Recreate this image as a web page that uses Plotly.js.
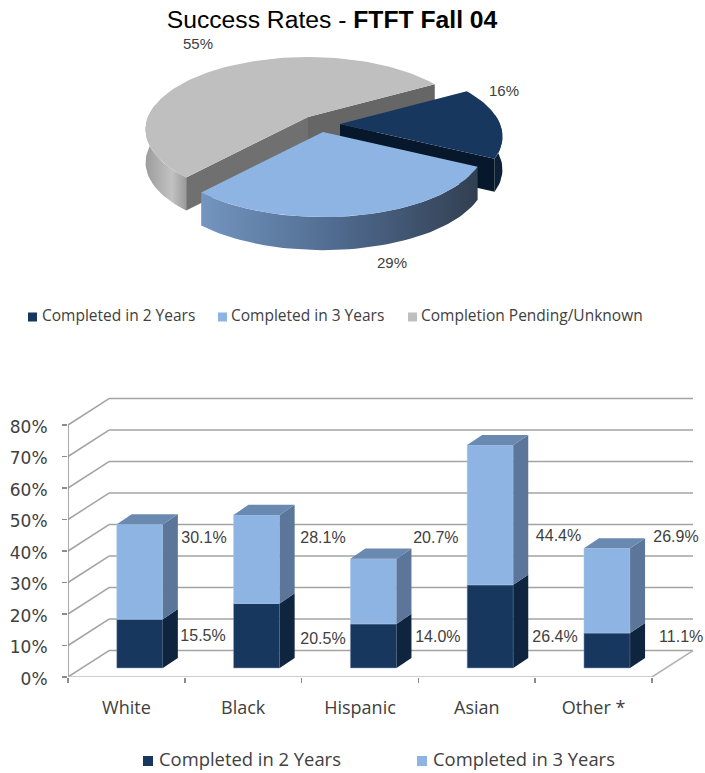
<!DOCTYPE html>
<html>
<head>
<meta charset="utf-8">
<script src="https://cdn.plot.ly/plotly-3.0.1.min.js"></script>
<style>html,body{margin:0;padding:0;background:#fff}</style>
</head>
<body>
<div id="chart" style="width:705px;height:773px"></div>
<script>
// ---- data ----
const pieLabels = ['Completed in 2 Years', 'Completed in 3 Years', 'Completion Pending/Unknown'];
const pieValues = [16, 29, 55];
const categories = ['White', 'Black', 'Hispanic', 'Asian', 'Other *'];
const twoYear = [15.5, 20.5, 14.0, 26.4, 11.1];
const threeYear = [30.1, 28.1, 20.7, 44.4, 26.9];
const yTicks = [0, 10, 20, 30, 40, 50, 60, 70, 80];
const seriesNames = ['Completed in 2 Years', 'Completed in 3 Years'];

// ---- colours ----
const NAVY = '#17375E', LIGHT = '#8EB4E3', GRAY = '#BFBFBF', TXT = '#404040';

// ---- layout constants (pie axes are scaled 1 unit = 1 screen pixel) ----
const W = 705, H = 773;
const pieBottom = 345;
const apexX = [340, 323, 308], apexY = [124, 132, 117];
const pieR = 160, pieK = 70.4, pieP = 0.173, pieT = 33, pieStart = -30.5;
const pieLabelX = [504, 392, 198], pieLabelY = [92, 264, 45];

// wall / bar depth in axis units of the lower plot
const wallDx = 0.351, wallDy = 8.4, barDx = 0.128, barDy = 3.2;
const barShift = 0.615, barWidth = 0.395, barBase = 2.86;
const label2X = [1.156, 2.183, 3.167, 4.17, 5.25], label2Y = [12.7, 11.7, 12.4, 12.4, 12.4];
const label3X = [1.164, 2.183, 3.15, 4.20, 5.205], label3Y = [43.8, 43.8, 43.8, 44.4, 44.1];

const traces = [];

// ---- pie (drawn from the shares) ----
function proj(a, deg, f) {
  const t = deg * Math.PI / 180, u = f * Math.cos(t), v = f * Math.sin(t), s = 1 / (1 - pieP * v);
  return [apexX[a] + pieR * u * s, apexY[a] + pieK * v * s];
}
function arc(a, d0, d1) {
  const pts = [], n = Math.max(2, Math.ceil(Math.abs(d1 - d0) / 2));
  for (let i = 0; i <= n; i++) pts.push(proj(a, d0 + (d1 - d0) * i / n, 1));
  return pts;
}
function poly(pts, color, grad, sub) {
  const t = {
    type: 'scatter', mode: 'lines', x: pts.map(p => p[0]).concat([pts[0][0]]), y: pts.map(p => p[1]).concat([pts[0][1]]),
    xaxis: sub ? 'x2' : 'x', yaxis: sub ? 'y2' : 'y', fill: 'toself', line: {width: 0}, hoverinfo: 'skip', showlegend: false
  };
  if (grad) { t.fillgradient = {type: 'horizontal', colorscale: grad}; } else { t.fillcolor = color; }
  traces.push(t);
}
function wall(a, d0, d1, color, grad) {
  const top = arc(a, d0, d1), bottom = top.slice().reverse().map(p => [p[0], p[1] + pieT]);
  poly(top.concat(bottom), color, grad, true);
}
function cut(a, deg, color) {
  const A = [apexX[a], apexY[a]], E = proj(a, deg, 1);
  poly([A, E, [E[0], E[1] + pieT], [A[0], A[1] + pieT]], color, null, true);
}
const total = pieValues.reduce((s, v) => s + v, 0);
const edges = [pieStart];
pieValues.forEach(v => edges.push(edges[edges.length - 1] + v / total * 360));
const pieTop = [NAVY, LIGHT, GRAY];

// grey slice (rear)
wall(2, edges[2], 190, null, [[0, '#9c9c9c'], [0.65, '#c2c2c2'], [1, '#9a9a9a']]);
cut(2, edges[2], '#707070');
cut(2, edges[3], '#666666');
poly([[apexX[2], apexY[2]]].concat(arc(2, edges[2], edges[3])), pieTop[2], null, true);
// navy slice
wall(0, -8, edges[1], '#0C2038');
cut(0, edges[1], '#08182C');
poly([[apexX[0], apexY[0]]].concat(arc(0, edges[0], edges[1])), pieTop[0], null, true);
// light blue slice (front)
wall(1, edges[1], edges[2], null, [[0, '#7395BF'], [0.5, '#4F6A8E'], [1, '#323F52']]);
poly([[apexX[1], apexY[1]]].concat(arc(1, edges[1], edges[2])), pieTop[1], null, true);

// pie labels
traces.push({
  type: 'scatter', mode: 'text', x: pieLabelX, y: pieLabelY, xaxis: 'x2', yaxis: 'y2', cliponaxis: false,
  text: pieValues.map(v => v + '%'), textposition: 'middle center',
  textfont: {family: 'Liberation Sans', size: 15, color: TXT}, hoverinfo: 'skip', showlegend: false
});

// legends: swatch and label placed separately
function legendItem(name, swatchX, size, textX, y, color, fontSize, yaxis) {
  traces.push({
    type: 'scatter', mode: 'markers', name, x: [swatchX + size / 2], y: [y], xaxis: 'x2', yaxis, cliponaxis: false,
    marker: {symbol: 'square', size, color}, hoverinfo: 'skip', showlegend: false
  });
  traces.push({
    type: 'scatter', mode: 'text', x: [textX], y: [y], xaxis: 'x2', yaxis, cliponaxis: false,
    text: [name], textposition: 'middle right',
    textfont: {family: 'Open Sans', size: fontSize, color: TXT}, hoverinfo: 'skip', showlegend: false
  });
}
const pieSwatchX = [28, 218, 408], pieTextX = [42, 231, 421];
pieLabels.forEach((n, i) => legendItem(n, pieSwatchX[i], 9, pieTextX[i], 317, pieTop[i], 15.5, 'y2'));

// ---- bars: fronts are real stacked bars, depth faces follow the values ----
const barX = categories.map((c, i) => i + barShift);
traces.push({
  type: 'bar', name: seriesNames[0], x: barX, y: twoYear, base: categories.map(() => barBase), width: barWidth,
  marker: {color: NAVY, line: {color: '#8FA3BD', width: 0.5}}, xaxis: 'x', yaxis: 'y', showlegend: false, hovertext: categories
});
traces.push({
  type: 'bar', name: seriesNames[1], x: barX, y: threeYear, base: twoYear.map(v => v + barBase), width: barWidth,
  marker: {color: LIGHT, line: {color: '#B5CDEB', width: 0.5}}, xaxis: 'x', yaxis: 'y', showlegend: false, hovertext: categories
});
categories.forEach((c, i) => {
  const xr = barX[i] + barWidth / 2, xl = barX[i] - barWidth / 2;
  const y0 = barBase, y1 = barBase + twoYear[i], y2 = y1 + threeYear[i];
  poly([[xr, y0], [xr + barDx, y0 + barDy], [xr + barDx, y1 + barDy], [xr, y1]], '#0F243E');
  poly([[xr, y1], [xr + barDx, y1 + barDy], [xr + barDx, y2 + barDy], [xr, y2]], '#5B7698');
  poly([[xl, y2], [xl + barDx, y2 + barDy], [xr + barDx, y2 + barDy], [xr, y2]], '#6A89B0');
});

// data labels
[[twoYear, label2X, label2Y], [threeYear, label3X, label3Y]].forEach(s => traces.push({
  type: 'scatter', mode: 'text', x: s[1], y: s[2], xaxis: 'x', yaxis: 'y', cliponaxis: false,
  text: s[0].map(v => v.toFixed(1) + '%'), textposition: 'middle center',
  textfont: {family: 'Liberation Sans', size: 16, color: TXT}, hoverinfo: 'skip', showlegend: false
}));

// bar legend
const barSwatchX = [143, 417], barTextX = [159, 433], barColors = [NAVY, LIGHT];
seriesNames.forEach((n, i) => legendItem(n, barSwatchX[i], 10, barTextX[i], 761, barColors[i], 18.4, 'y3'));

// ---- perspective grid ----
const GRID = '#A3A3A3';
const seg = (x0, y0, x1, y1, c, w) => ({type: 'line', xref: 'x', yref: 'y', layer: 'below', x0, y0, x1, y1, line: {color: c || GRID, width: w || 1.5}});
const shapes = [];
yTicks.forEach(v => {
  shapes.push(seg(wallDx, v + wallDy, 5 + wallDx, v + wallDy));
  shapes.push(seg(0, v, wallDx, v + wallDy));
});
shapes.push(seg(0, 0, 0, yTicks[yTicks.length - 1], '#8C8C8C'));
shapes.push(seg(0, 0, 5, 0, '#BDBDBD'));
shapes.push(seg(5, 0, 5 + wallDx, wallDy, '#B0B0B0'));

const layout = {
  width: W, height: H, margin: {l: 0, r: 0, t: 0, b: 0}, paper_bgcolor: '#fff', plot_bgcolor: 'rgba(0,0,0,0)',
  showlegend: false, barmode: 'overlay', shapes,
  title: {text: 'Success Rates - <b>FTFT Fall 04</b>', x: 332 / W, xanchor: 'center', y: 1 - 19 / H, yanchor: 'middle',
          font: {family: 'Liberation Sans', size: 24.7, color: '#000'}},
  xaxis: {
    domain: [68 / W, 1], range: [0, (W - 68) / 116.8], anchor: 'y', zeroline: false, showgrid: false, showline: false,
    tickmode: 'array', tickvals: categories.map((c, i) => i + 0.5), ticktext: categories, ticks: '',
    minor: {tickmode: 'array', tickvals: [0, 1, 2, 3, 4, 5], ticks: 'outside', ticklen: 5, tickwidth: 1.5, tickcolor: '#8C8C8C', showgrid: false},
    ticklabelstandoff: 18, tickfont: {family: 'Open Sans', size: 18, color: TXT}
  },
  yaxis: {
    domain: [(H - 677) / H, (H - 393.5) / H], range: [0, 90], anchor: 'x', zeroline: false, showgrid: false, showline: false,
    position: 0, tickmode: 'array', tickvals: yTicks, ticktext: yTicks.map(v => v + '%'), ticks: 'outside', ticklen: 5, tickwidth: 1.5, tickcolor: '#8C8C8C',
    ticklabelstandoff: 11, ticklabelshift: 2, tickfont: {family: 'DejaVu Sans', size: 17, color: TXT}
  },
  xaxis2: {domain: [0, 1], range: [0, W], anchor: 'y2', visible: false},
  yaxis2: {domain: [1 - pieBottom / H, 1], range: [pieBottom, 0], anchor: 'x2', visible: false},
  yaxis3: {domain: [0, (H - 740) / H], range: [H, 740], anchor: 'x2', visible: false}
};
Plotly.newPlot('chart', traces, layout, {displayModeBar: false, staticPlot: true});
</script>
</body>
</html>
